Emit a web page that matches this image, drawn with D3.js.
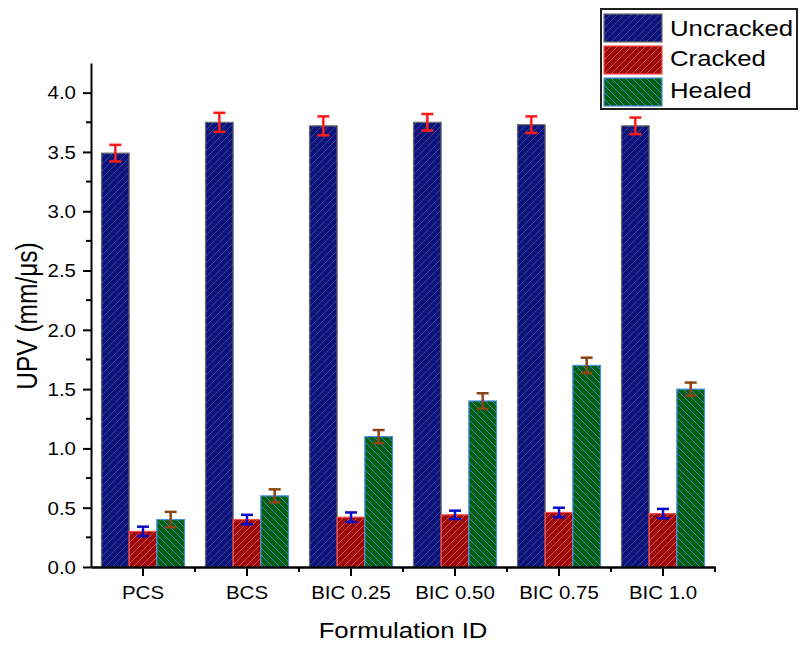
<!DOCTYPE html>
<html>
<head>
<meta charset="utf-8">
<script src="https://cdn.jsdelivr.net/npm/d3@7"></script>
<style>
  html, body { margin: 0; padding: 0; background: #fff; }
  svg { display: block; font-family: Arial, "Liberation Sans", sans-serif; }
</style>
</head>
<body>
<svg id="chart" width="800" height="648"></svg>
<script>
// UPV by formulation: uncracked, cracked and healed states
const categories = ["PCS", "BCS", "BIC 0.25", "BIC 0.50", "BIC 0.75", "BIC 1.0"];
const seriesNames = ["Uncracked", "Cracked", "Healed"];
const uncracked = [3.49, 3.75, 3.72, 3.75, 3.73, 3.72];
const uncrackedErr = [0.07, 0.08, 0.08, 0.07, 0.07, 0.07];
const cracked = [0.30, 0.40, 0.42, 0.44, 0.46, 0.45];
const crackedErr = [0.04, 0.04, 0.04, 0.035, 0.04, 0.04];
const healed = [0.40, 0.60, 1.10, 1.40, 1.70, 1.50];
const healedErr = [0.065, 0.055, 0.055, 0.065, 0.065, 0.055];
const yTicks = [0.0, 0.5, 1.0, 1.5, 2.0, 2.5, 3.0, 3.5, 4.0];

const FONT = "Arial, 'Liberation Sans', sans-serif";
const SX = 1.17; // text is drawn slightly wide

const series = [
  { name: seriesNames[0], values: uncracked, errs: uncrackedErr, pattern: "hatch-u", stroke: "#6e6e6e", err: "#ff1a1a" },
  { name: seriesNames[1], values: cracked, errs: crackedErr, pattern: "hatch-c", stroke: "#ff4d4d", err: "#0a0ac8" },
  { name: seriesNames[2], values: healed, errs: healedErr, pattern: "hatch-h", stroke: "#4a90e2", err: "#8b4513" }
];

const svg = d3.select("#chart");
const margin = { left: 91, right: 85, top: 63, bottom: 81 };
const W = 800, H = 648;

const x = d3.scaleBand().domain(categories).range([margin.left, W - margin.right]);
const groupPad = 10.5;
const xi = d3.scaleBand().domain(seriesNames).range([groupPad, x.bandwidth() - groupPad]);
const y = d3.scaleLinear().domain([0, 4.25]).range([H - margin.bottom, margin.top]);

// hatch patterns
const defs = svg.append("defs");
function hatch(id, bg, line, dir) {
  const p = defs.append("pattern").attr("id", id).attr("patternUnits", "userSpaceOnUse")
    .attr("width", 7).attr("height", 7);
  p.append("rect").attr("width", 7).attr("height", 7).attr("fill", bg);
  const d = dir > 0
    ? "M-1,8 L8,-1 M-1,1 L1,-1 M6,8 L8,6"
    : "M-1,-1 L8,8 M6,-1 L8,1 M-1,6 L1,8";
  p.append("path").attr("d", d).attr("stroke", line).attr("stroke-width", 1).attr("fill", "none");
}
hatch("hatch-u", "#0b1480", "#40466f", 1);
hatch("hatch-c", "#9c0b0b", "#dc4a4a", 1);
hatch("hatch-h", "#05600c", "#3384d0", -1);

// bars
series.forEach(s => {
  svg.append("g").selectAll("rect").data(categories).join("rect")
    .attr("x", c => x(c) + xi(s.name))
    .attr("y", (c, i) => y(s.values[i]))
    .attr("width", xi.bandwidth())
    .attr("height", (c, i) => y(0) - y(s.values[i]))
    .attr("fill", `url(#${s.pattern})`)
    .attr("stroke", s.stroke)
    .attr("stroke-width", 1.2);
});

// error bars
series.forEach(s => {
  const g = svg.append("g").attr("stroke", s.err).attr("stroke-width", 2.5).attr("fill", "none");
  categories.forEach((c, i) => {
    const cx = x(c) + xi(s.name) + xi.bandwidth() / 2;
    const hi = y(s.values[i] + s.errs[i]), lo = y(s.values[i] - s.errs[i]);
    g.append("line").attr("x1", cx).attr("x2", cx).attr("y1", hi).attr("y2", lo);
    g.append("line").attr("x1", cx - 6).attr("x2", cx + 6).attr("y1", hi).attr("y2", hi);
    g.append("line").attr("x1", cx - 6).attr("x2", cx + 6).attr("y1", lo).attr("y2", lo);
  });
});

// y axis
const yAxis = svg.append("g").attr("transform", `translate(${margin.left},0)`)
  .call(d3.axisLeft(y).tickValues(yTicks).tickFormat(d3.format(".1f")).tickSize(8).tickSizeOuter(0));
yAxis.select(".domain").attr("stroke-width", 2);
yAxis.selectAll(".tick line").attr("stroke-width", 2);
yAxis.selectAll(".tick text").attr("font-size", 17.5).attr("fill", "#000")
  .attr("font-family", FONT).attr("x", -15 / SX).attr("dy", "0.36em")
  .attr("transform", `scale(${SX},1)`);
// minor y ticks
svg.append("g").selectAll("line").data(d3.range(0.25, 4.25, 0.5)).join("line")
  .attr("x1", margin.left - 5).attr("x2", margin.left)
  .attr("y1", d => y(d)).attr("y2", d => y(d))
  .attr("stroke", "#000").attr("stroke-width", 2);

// x axis
const xAxis = svg.append("g").attr("transform", `translate(0,${y(0)})`)
  .call(d3.axisBottom(x).tickSize(9).tickSizeOuter(0));
xAxis.select(".domain").attr("stroke-width", 2.5);
xAxis.selectAll(".tick line").attr("stroke-width", 2);
xAxis.selectAll(".tick text").attr("font-size", 17.5).attr("fill", "#000")
  .attr("font-family", FONT).attr("y", 32).attr("dy", "0")
  .attr("transform", `scale(${SX},1)`);
// minor x ticks at band edges
const edges = categories.slice(1).map(c => x(c)).concat([x.range()[1]]);
svg.append("g").selectAll("line").data(edges).join("line")
  .attr("x1", d => d).attr("x2", d => d)
  .attr("y1", y(0)).attr("y2", y(0) + 5)
  .attr("stroke", "#000").attr("stroke-width", 2);

// axis titles
svg.append("text")
  .attr("transform", `translate(${(margin.left + W - margin.right) / 2},638) scale(${SX},1)`)
  .attr("text-anchor", "middle").attr("font-size", 22).text("Formulation ID");
svg.append("text")
  .attr("transform", `translate(37,316) rotate(-90) scale(1,${SX})`)
  .attr("text-anchor", "middle").attr("font-size", 24.5).text("UPV (mm/μs)");

// legend
const lg = svg.append("g").attr("transform", "translate(601,9)");
lg.append("rect").attr("width", 196).attr("height", 100).attr("fill", "#fff")
  .attr("stroke", "#222").attr("stroke-width", 2);
series.forEach((s, i) => {
  const row = lg.append("g").attr("transform", `translate(3,${5 + i * 32})`);
  row.append("rect").attr("width", 58).attr("height", 28)
    .attr("fill", `url(#${s.pattern})`).attr("stroke", s.stroke).attr("stroke-width", 1.2);
  row.append("text").attr("transform", `translate(66,${i === 0 ? 22 : 20}) scale(${SX},1)`)
    .attr("font-size", 22).text(s.name);
});
</script>
</body>
</html>
